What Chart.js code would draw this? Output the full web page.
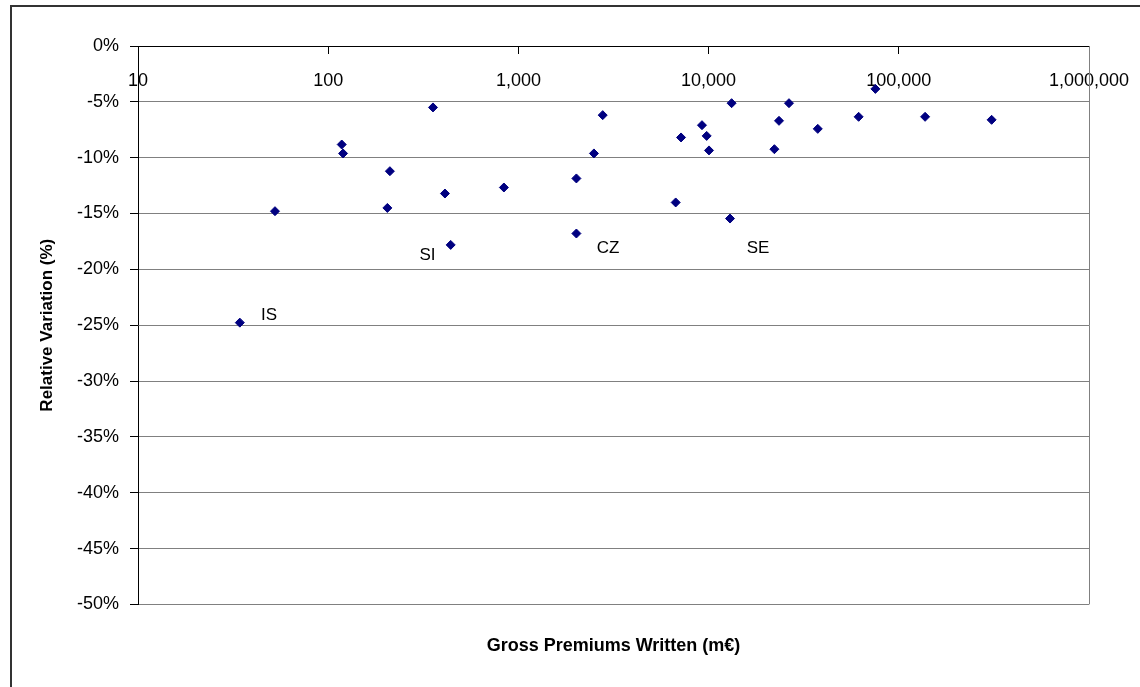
<!DOCTYPE html>
<html>
<head>
<meta charset="utf-8">
<script src="https://cdn.jsdelivr.net/npm/chart.js@4.4.1/dist/chart.umd.min.js"></script>
<style>
  html, body { margin: 0; padding: 0; background: #fff; }
  canvas { display: block; }
</style>
</head>
<body>
<canvas id="c" width="1140" height="687"></canvas>
<script>
// Gross premiums written (m€) and relative variation (%)
const gpw = [34.3, 52.5, 117.8, 119.7, 211, 204.7, 355.6, 411, 440.6, 839, 2018, 2018, 2495, 2775, 6714, 7163, 9230, 9770, 10050, 12960, 13210, 22180, 23450, 26460, 37500, 61500, 75300, 137500, 307600];
const relVar = [-24.77, -14.79, -8.82, -9.62, -11.21, -14.50, -5.50, -13.21, -17.81, -12.67, -11.86, -16.79, -9.62, -6.19, -14.01, -8.19, -7.09, -8.05, -9.35, -15.45, -5.12, -9.24, -6.70, -5.12, -7.42, -6.34, -3.84, -6.34, -6.61];

// Country labels and their anchors (data space)
const labelText = ['IS', 'SI', 'CZ', 'SE'];
const labelX = [48.9, 332.6, 2958, 18200];
const labelY = [-24.11, -18.74, -18.14, -18.14];

// Axis ticks
const xTicks = [10, 100, 1000, 10000, 100000, 1000000];
const yMin = -50, yMax = 0, yStep = 5;

const xTitle = 'Gross Premiums Written (m€)';
const yTitle = 'Relative Variation (%)';

const FONT = "'Liberation Sans', Arial, sans-serif";

const framePlugin = {
  id: 'frame',
  beforeDraw(chart) {
    const ctx = chart.ctx;
    ctx.save();
    ctx.fillStyle = '#fff';
    ctx.fillRect(0, 0, chart.width, chart.height);
    ctx.strokeStyle = '#333';
    ctx.lineWidth = 2;
    ctx.strokeRect(11, 6, chart.width + 20, chart.height + 20);
    ctx.restore();
  },
  beforeDatasetsDraw(chart) {
    const {ctx, chartArea: a} = chart;
    ctx.save();
    ctx.strokeStyle = '#808080';
    ctx.lineWidth = 1;
    ctx.beginPath();
    ctx.moveTo(Math.round(a.right) + 0.5, a.top);
    ctx.lineTo(Math.round(a.right) + 0.5, a.bottom);
    ctx.stroke();
    ctx.restore();
  },
  afterDatasetsDraw(chart) {
    const ctx = chart.ctx;
    const xs = chart.scales.x, ys = chart.scales.y;
    ctx.save();
    ctx.fillStyle = '#000';
    ctx.font = '17px ' + FONT;
    ctx.textAlign = 'center';
    ctx.textBaseline = 'middle';
    labelText.forEach((t, i) => {
      ctx.fillText(t, xs.getPixelForValue(labelX[i]), ys.getPixelForValue(labelY[i]));
    });
    ctx.restore();
  }
};

new Chart(document.getElementById('c'), {
  type: 'scatter',
  data: {
    datasets: [{
      data: gpw.map((x, i) => ({x: x, y: relVar[i]})),
      pointStyle: 'rectRot',
      pointRadius: 4.5,
      pointHoverRadius: 4.5,
      borderWidth: 1,
      backgroundColor: '#000080',
      borderColor: '#000080'
    }]
  },
  options: {
    responsive: false,
    animation: false,
    devicePixelRatio: 1,
    layout: { padding: { top: 46, right: 51, left: 0, bottom: 20 } },
    plugins: {
      legend: { display: false },
      tooltip: { enabled: false },
      title: {
        display: true,
        position: 'bottom',
        fullSize: false,
        text: xTitle,
        color: '#000',
        font: { family: FONT, size: 18, weight: 'bold' },
        padding: { top: 31, bottom: 10 }
      }
    },
    scales: {
      x: {
        type: 'logarithmic',
        position: { y: 0 },
        min: 10,
        max: 1000000,
        afterBuildTicks(scale) { scale.ticks = xTicks.map(v => ({ value: v })); },
        afterFit(scale) { scale.paddingLeft = 0; scale.paddingRight = 0; },
        ticks: {
          color: '#000',
          font: { family: FONT, size: 18 },
          padding: 17,
          maxRotation: 0,
          autoSkip: false,
          callback: (v) => Number(v).toLocaleString('en-US')
        },
        grid: { display: true, drawOnChartArea: false, drawTicks: true, tickLength: 7, tickColor: '#000' },
        border: { display: true, color: '#000', width: 1 }
      },
      y: {
        min: yMin,
        max: yMax,
        afterFit(scale) { scale.width = 138; },
        ticks: {
          stepSize: yStep,
          color: '#000',
          font: { family: FONT, size: 18 },
          padding: 11,
          callback: (v) => Math.round(v) + '%'
        },
        grid: { color: '#808080', lineWidth: 1, tickLength: 8, tickColor: '#000' },
        border: { display: true, color: '#000', width: 1 },
        title: {
          display: true,
          text: yTitle,
          color: '#000',
          font: { family: FONT, size: 17, weight: 'bold' },
          padding: { top: 37, bottom: 0 }
        }
      }
    }
  },
  plugins: [framePlugin]
});
</script>
</body>
</html>
